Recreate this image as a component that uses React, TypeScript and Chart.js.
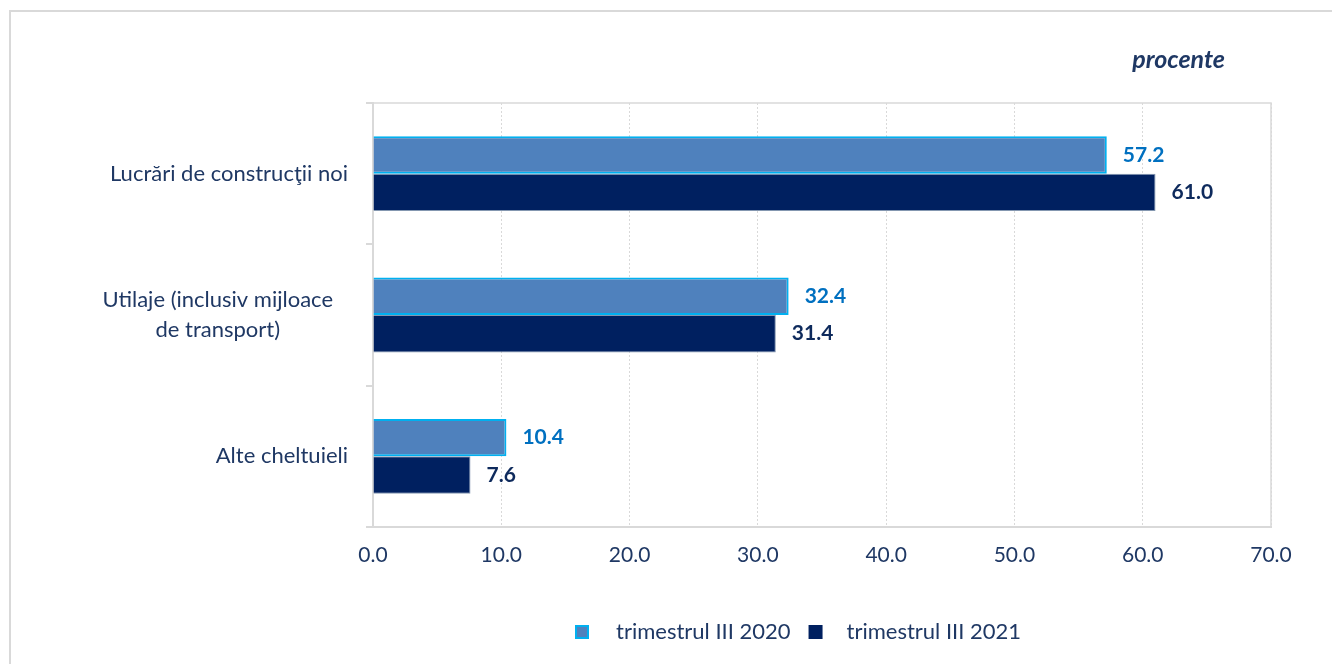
import { useEffect, useRef } from 'react';
import { Chart, registerables } from 'chart.js';

Chart.register(...registerables);

const categories: string[][] = [
  ['Lucrări de construcţii noi'],
  ['Utilaje (inclusiv mijloace', 'de transport)'],
  ['Alte cheltuieli'],
];
const seriesNames = ['trimestrul III 2020', 'trimestrul III 2021'];
const values2020 = [57.2, 32.4, 10.4];
const values2021 = [61.0, 31.4, 7.6];
const xMin = 0;
const xMax = 70;
const xStep = 10;
const unitLabel = 'procente';

const FONT = 'Lato, "Open Sans", sans-serif';
const TEXT = '#1F3864';
const GRID = '#d9d9d9';
const FILL_2020 = '#4F81BD';
const BORDER_2020 = '#00B0F0';
const FILL_2021 = '#002060';
const LABEL_2020 = '#0070C0';
const LABEL_2021 = '#0E2A5C';

const overlayPlugin = {
  id: 'overlay',
  afterDraw(chart: any) {
    const { ctx, chartArea, scales } = chart;
    const yScale = scales.y;
    ctx.save();

    // plot frame top & right
    ctx.strokeStyle = GRID;
    ctx.lineWidth = 1.5;
    ctx.beginPath();
    ctx.moveTo(chartArea.left, chartArea.top);
    ctx.lineTo(chartArea.right, chartArea.top);
    ctx.lineTo(chartArea.right, chartArea.bottom);
    ctx.stroke();

    // category labels
    ctx.font = `22px ${FONT}`;
    ctx.fillStyle = TEXT;
    ctx.textBaseline = 'middle';
    ctx.textAlign = 'center';
    const rightEdge = chartArea.left - 25;
    const lh = 30;
    categories.forEach((lines, i) => {
      const cy = yScale.getPixelForValue(i);
      const w = Math.max(...lines.map((l) => ctx.measureText(l).width));
      const cx = rightEdge - w / 2 - (lines.length > 1 ? 15 : 0);
      lines.forEach((l, j) => {
        const y = cy + (j - (lines.length - 1) / 2) * lh;
        ctx.fillText(l, cx, y);
      });
    });

    // data labels
    ctx.font = `bold 21px ${FONT}`;
    ctx.textAlign = 'left';
    chart.data.datasets.forEach((ds: any, di: number) => {
      const meta = chart.getDatasetMeta(di);
      ctx.fillStyle = di === 0 ? LABEL_2020 : LABEL_2021;
      meta.data.forEach((el: any, i: number) => {
        ctx.fillText(Number(ds.data[i]).toFixed(1), el.x + 16, el.y);
      });
    });

    // unit label
    ctx.font = `italic bold 25px ${FONT}`;
    ctx.fillStyle = TEXT;
    ctx.textAlign = 'right';
    ctx.fillText(unitLabel, 1225, 60);

    // legend
    ctx.font = `22px ${FONT}`;
    ctx.textAlign = 'left';
    const ly = 632;
    let x = 575;
    chart.data.datasets.forEach((ds: any, di: number) => {
      ctx.fillStyle = ds.backgroundColor;
      ctx.fillRect(x, ly - 7, 14, 14);
      if (di === 0) {
        ctx.strokeStyle = BORDER_2020;
        ctx.lineWidth = 2;
        ctx.strokeRect(x + 1, ly - 6, 12, 12);
      }
      x += 14 + (di === 0 ? 27 : 24);
      ctx.fillStyle = TEXT;
      ctx.fillText(ds.label, x, ly);
      x += ctx.measureText(ds.label).width + 18;
    });

    ctx.restore();
  },
};

export default function App() {
  const ref = useRef<HTMLCanvasElement | null>(null);

  useEffect(() => {
    if (!ref.current) return;
    const chart = new Chart(ref.current, {
      type: 'bar',
      data: {
        labels: categories.map((c) => c.join(' ')),
        datasets: [
          {
            label: seriesNames[0],
            data: values2020,
            backgroundColor: FILL_2020,
            borderColor: BORDER_2020,
            borderWidth: 2,
            categoryPercentage: 0.53,
            barPercentage: 1,
          },
          {
            label: seriesNames[1],
            data: values2021,
            backgroundColor: FILL_2021,
            borderColor: '#8497B0',
            borderWidth: 1,
            categoryPercentage: 0.53,
            barPercentage: 1,
          },
        ],
      },
      options: {
        indexAxis: 'y',
        responsive: false,
        animation: false,
        devicePixelRatio: 1,
        layout: { padding: { top: 103, right: 61, bottom: 77, left: 0 } },
        plugins: { legend: { display: false }, tooltip: { enabled: false } },
        scales: {
          x: {
            min: xMin,
            max: xMax,
            ticks: {
              stepSize: xStep,
              callback: (v: any) => Number(v).toFixed(1),
              color: TEXT,
              font: { family: FONT, size: 21 },
              padding: 16,
              maxRotation: 0,
            },
            grid: { color: GRID, lineWidth: 1, drawTicks: false },
            border: { display: true, color: GRID, width: 2, dash: [2, 2] },
            afterFit: (s: any) => {
              s.height = 60;
            },
          },
          y: {
            ticks: { display: false },
            grid: {
              drawOnChartArea: false,
              drawTicks: true,
              tickLength: 7,
              color: GRID,
              lineWidth: 2,
              offset: true,
            },
            border: { display: true, color: GRID, width: 2 },
            afterFit: (s: any) => {
              s.width = 373;
            },
          },
        },
      },
      plugins: [overlayPlugin],
    });
    return () => chart.destroy();
  }, []);

  return (
    <div style={{ position: 'fixed', left: 0, top: 0, width: 1332, height: 664, background: '#fff', overflow: 'hidden' }}>
      <div
        style={{
          position: 'absolute',
          left: 9,
          top: 10,
          right: -10,
          bottom: -10,
          borderTop: `2px solid ${GRID}`,
          borderLeft: `2px solid ${GRID}`,
        }}
      />
      <canvas ref={ref} width={1332} height={664} style={{ position: 'absolute', left: 0, top: 0 }} />
    </div>
  );
}
